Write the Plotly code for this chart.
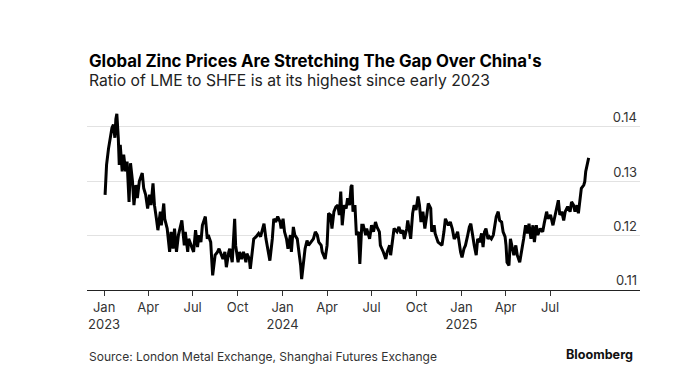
import plotly.graph_objects as go

# ---- data ----
dates_2023 = [
    "2023-01-03", "2023-01-06", "2023-01-10", "2023-01-13", "2023-01-17", "2023-01-20",
    "2023-01-23", "2023-01-25", "2023-01-27", "2023-01-30", "2023-02-01", "2023-02-03",
    "2023-02-07", "2023-02-10", "2023-02-14", "2023-02-17", "2023-02-21", "2023-02-24",
    "2023-02-28", "2023-03-03", "2023-03-07", "2023-03-10", "2023-03-14", "2023-03-20",
    "2023-03-23", "2023-03-27", "2023-03-31", "2023-04-04", "2023-04-07", "2023-04-11",
    "2023-04-14", "2023-04-18", "2023-04-21", "2023-04-26", "2023-04-28", "2023-05-03",
    "2023-05-05", "2023-05-10", "2023-05-15", "2023-05-18", "2023-05-22", "2023-05-25",
    "2023-05-29", "2023-06-02", "2023-06-06", "2023-06-09", "2023-06-14", "2023-06-16",
    "2023-06-21", "2023-06-23", "2023-06-28", "2023-07-03", "2023-07-07", "2023-07-11",
    "2023-07-14", "2023-07-18", "2023-07-21", "2023-07-27", "2023-07-31", "2023-08-02",
    "2023-08-07", "2023-08-09", "2023-08-11", "2023-08-16", "2023-08-21", "2023-08-24",
    "2023-08-28", "2023-09-01", "2023-09-05", "2023-09-08", "2023-09-13", "2023-09-15",
    "2023-09-20", "2023-09-25", "2023-09-27", "2023-10-02", "2023-10-05", "2023-10-09",
    "2023-10-13", "2023-10-18", "2023-10-20", "2023-10-25", "2023-10-27", "2023-11-01",
    "2023-11-03", "2023-11-08", "2023-11-13", "2023-11-17", "2023-11-21", "2023-11-24",
    "2023-11-28", "2023-12-01", "2023-12-06", "2023-12-11", "2023-12-14", "2023-12-18",
    "2023-12-22", "2023-12-27", "2023-12-29",
]
ratio_2023 = [
    0.1275, 0.1330, 0.1360, 0.1377, 0.1398, 0.1404,
    0.1380, 0.1414, 0.1424, 0.1380, 0.1330, 0.1367,
    0.1318, 0.1349, 0.1318, 0.1336, 0.1262, 0.1333,
    0.1300, 0.1256, 0.1293, 0.1269, 0.1300, 0.1315,
    0.1287, 0.1275, 0.1250, 0.1275, 0.1256, 0.1296,
    0.1256, 0.1231, 0.1210, 0.1244, 0.1219, 0.1259,
    0.1231, 0.1213, 0.1170, 0.1207, 0.1176, 0.1213,
    0.1170, 0.1201, 0.1219, 0.1228, 0.1182, 0.1207,
    0.1170, 0.1194, 0.1182, 0.1170, 0.1210, 0.1179,
    0.1201, 0.1188, 0.1219, 0.1235, 0.1194, 0.1201,
    0.1188, 0.1157, 0.1127, 0.1164, 0.1170, 0.1176,
    0.1167, 0.1157, 0.1170, 0.1142, 0.1170, 0.1176,
    0.1151, 0.1231, 0.1182, 0.1151, 0.1170, 0.1157,
    0.1170, 0.1151, 0.1167, 0.1157, 0.1139, 0.1188,
    0.1194, 0.1198, 0.1204, 0.1198, 0.1210, 0.1222,
    0.1194, 0.1176, 0.1154, 0.1194, 0.1231, 0.1225,
    0.1235, 0.1225, 0.1213,
]

dates_2024 = [
    "2024-01-02", "2024-01-05", "2024-01-09", "2024-01-12", "2024-01-17", "2024-01-19",
    "2024-01-23", "2024-01-26", "2024-01-31", "2024-02-02", "2024-02-07", "2024-02-09",
    "2024-02-13", "2024-02-16", "2024-02-20", "2024-02-23", "2024-02-28", "2024-03-04",
    "2024-03-08", "2024-03-12", "2024-03-15", "2024-03-20", "2024-03-22", "2024-03-28",
    "2024-04-01", "2024-04-04", "2024-04-08", "2024-04-11", "2024-04-15", "2024-04-19",
    "2024-04-23", "2024-04-26", "2024-04-29", "2024-05-02", "2024-05-06", "2024-05-10",
    "2024-05-13", "2024-05-17", "2024-05-20", "2024-05-22", "2024-05-24", "2024-05-28",
    "2024-05-31", "2024-06-04", "2024-06-07", "2024-06-11", "2024-06-14", "2024-06-19",
    "2024-06-21", "2024-06-27", "2024-07-01", "2024-07-05", "2024-07-09", "2024-07-12",
    "2024-07-17", "2024-07-19", "2024-07-25", "2024-07-30", "2024-08-02", "2024-08-07",
    "2024-08-09", "2024-08-14", "2024-08-16", "2024-08-22", "2024-08-26", "2024-08-30",
    "2024-09-03", "2024-09-06", "2024-09-11", "2024-09-13", "2024-09-19", "2024-09-23",
    "2024-09-26", "2024-09-30", "2024-10-04", "2024-10-07", "2024-10-10", "2024-10-14",
    "2024-10-18", "2024-10-22", "2024-10-25", "2024-10-30", "2024-11-01", "2024-11-06",
    "2024-11-08", "2024-11-14", "2024-11-18", "2024-11-22", "2024-11-26", "2024-11-29",
    "2024-12-05", "2024-12-09", "2024-12-13", "2024-12-17", "2024-12-20", "2024-12-24",
    "2024-12-30",
]
ratio_2024 = [
    0.1231, 0.1207, 0.1194, 0.1176, 0.1201, 0.1170,
    0.1216, 0.1201, 0.1194, 0.1182, 0.1145, 0.1120,
    0.1157, 0.1176, 0.1191, 0.1182, 0.1188, 0.1194,
    0.1207, 0.1201, 0.1188, 0.1182, 0.1170, 0.1157,
    0.1182, 0.1241, 0.1238, 0.1213, 0.1244, 0.1253,
    0.1256, 0.1238, 0.1281, 0.1219, 0.1256, 0.1250,
    0.1269, 0.1256, 0.1290, 0.1293, 0.1244, 0.1256,
    0.1201, 0.1207, 0.1148, 0.1219, 0.1219, 0.1201,
    0.1213, 0.1194, 0.1219, 0.1207, 0.1225, 0.1216,
    0.1207, 0.1182, 0.1170, 0.1157, 0.1170, 0.1182,
    0.1164, 0.1207, 0.1213, 0.1207, 0.1216, 0.1204,
    0.1210, 0.1194, 0.1213, 0.1228, 0.1194, 0.1241,
    0.1256, 0.1247, 0.1272, 0.1256, 0.1225, 0.1244,
    0.1213, 0.1238, 0.1259, 0.1250, 0.1207, 0.1219,
    0.1204, 0.1188, 0.1185, 0.1182, 0.1207, 0.1231,
    0.1219, 0.1225, 0.1213, 0.1194, 0.1198, 0.1207,
    0.1170,
]

dates_2025 = [
    "2025-01-02", "2025-01-06", "2025-01-09", "2025-01-13", "2025-01-17", "2025-01-20",
    "2025-01-23", "2025-01-27", "2025-01-31", "2025-02-03", "2025-02-07", "2025-02-11",
    "2025-02-14", "2025-02-17", "2025-02-20", "2025-02-24", "2025-02-27", "2025-03-03",
    "2025-03-07", "2025-03-10", "2025-03-13", "2025-03-17", "2025-03-20", "2025-03-24",
    "2025-03-27", "2025-03-31", "2025-04-02", "2025-04-04", "2025-04-08", "2025-04-11",
    "2025-04-15", "2025-04-18", "2025-04-22", "2025-04-25", "2025-04-30", "2025-05-05",
    "2025-05-08", "2025-05-12", "2025-05-16", "2025-05-19", "2025-05-23", "2025-05-27",
    "2025-05-30", "2025-06-03", "2025-06-06", "2025-06-11", "2025-06-16", "2025-06-19",
    "2025-06-24", "2025-06-27", "2025-07-02", "2025-07-07", "2025-07-10", "2025-07-14",
    "2025-07-18", "2025-07-21", "2025-07-25", "2025-07-29", "2025-08-01", "2025-08-06",
    "2025-08-11", "2025-08-14", "2025-08-18", "2025-08-21", "2025-08-25", "2025-08-28",
    "2025-09-01", "2025-09-03", "2025-09-08", "2025-09-10", "2025-09-12", "2025-09-16",
    "2025-09-18",
]
ratio_2025 = [
    0.1160, 0.1176, 0.1182, 0.1198, 0.1216, 0.1222,
    0.1201, 0.1182, 0.1164, 0.1194, 0.1188, 0.1204,
    0.1179, 0.1207, 0.1213, 0.1194, 0.1198, 0.1194,
    0.1201, 0.1222, 0.1235, 0.1244, 0.1228, 0.1225,
    0.1207, 0.1198, 0.1182, 0.1151, 0.1145, 0.1194,
    0.1176, 0.1164, 0.1182, 0.1164, 0.1151, 0.1176,
    0.1194, 0.1219, 0.1204, 0.1222, 0.1194, 0.1219,
    0.1188, 0.1219, 0.1201, 0.1213, 0.1207, 0.1222,
    0.1244, 0.1231, 0.1238, 0.1219, 0.1231, 0.1244,
    0.1265, 0.1238, 0.1244, 0.1228, 0.1244, 0.1253,
    0.1244, 0.1262, 0.1256, 0.1244, 0.1256, 0.1241,
    0.1275, 0.1287, 0.1293, 0.1299, 0.1318, 0.1336,
    0.1343,
]

x_tick_vals = ["2023-01-01", "2023-04-01", "2023-07-01", "2023-10-01",
               "2024-01-01", "2024-04-01", "2024-07-01", "2024-10-01",
               "2025-01-01", "2025-04-01", "2025-07-01"]
x_tick_text = ["Jan<br>2023", "Apr", "Jul", "Oct",
               "Jan<br>2024", "Apr", "Jul", "Oct",
               "Jan<br>2025", "Apr", "Jul"]
y_tick_vals = [0.11, 0.12, 0.13, 0.14]
y_tick_text = ["0.11", "0.12", "0.13", "0.14"]

title_text = "Global Zinc Prices Are Stretching The Gap Over China's"
subtitle_text = "Ratio of LME to SHFE is at its highest since early 2023"
source_text = "Source: London Metal Exchange, Shanghai Futures Exchange"
brand_text = "Bloomberg"

dates = dates_2023 + dates_2024 + dates_2025
ratio = ratio_2023 + ratio_2024 + ratio_2025

FONT = "Inter, Roboto, 'Liberation Sans', sans-serif"

fig = go.Figure()
fig.add_trace(go.Scatter(
    x=dates, y=ratio, mode="lines",
    line=dict(color="#000000", width=3),
    hoverinfo="x+y", showlegend=False,
))

fig.update_layout(
    width=700, height=387,
    margin=dict(l=87, r=60, t=104, b=97),
    paper_bgcolor="white", plot_bgcolor="white",
    font=dict(family=FONT, color="#333333", size=13),
    showlegend=False,
    xaxis=dict(
        type="date",
        range=["2022-11-27", "2026-01-01"],
        tickvals=x_tick_vals, ticktext=x_tick_text,
        ticks="outside", ticklen=5, tickwidth=1, tickcolor="#333333",
        showgrid=False, zeroline=False,
        showline=True, linecolor="#222222", linewidth=1,
        tickfont=dict(family=FONT, size=13, color="#333333"),
        fixedrange=True,
    ),
    yaxis=dict(
        range=[0.11, 0.1442],
        side="right",
        tickvals=y_tick_vals, ticktext=y_tick_text,
        ticklabelposition="inside top",
        ticks="", showline=False, zeroline=False,
        showgrid=True, gridcolor="#e2e2e2", gridwidth=1,
        tickfont=dict(family=FONT, size=13, color="#333333"),
        fixedrange=True,
    ),
    annotations=[
        dict(text="<b>" + title_text + "</b>", xref="paper", yref="paper",
             x=0, y=1.231, xanchor="left", yanchor="middle", showarrow=False,
             font=dict(family=FONT, size=16.8, color="#000000")),
        dict(text=subtitle_text, xref="paper", yref="paper",
             x=0, y=1.129, xanchor="left", yanchor="middle", showarrow=False,
             font=dict(family=FONT, size=15.7, color="#222222")),
        dict(text=source_text, xref="paper", yref="paper",
             x=0, y=-0.360, xanchor="left", yanchor="middle", showarrow=False,
             font=dict(family=FONT, size=12, color="#333333")),
        dict(text="<b>" + brand_text + "</b>", xref="paper", yref="paper",
             x=0.991, y=-0.349, xanchor="right", yanchor="middle", showarrow=False,
             font=dict(family=FONT, size=12.6, color="#111111")),
    ],
)

fig.write_html("out.html", config={"displayModeBar": False},
               post_script="document.body.style.margin='0';")
